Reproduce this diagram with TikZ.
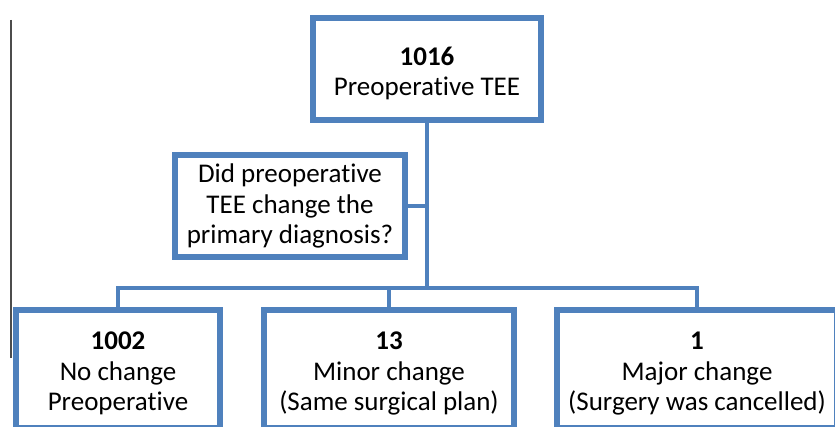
\documentclass[tikz,border=0pt]{standalone}
\usepackage{fontspec}
\setmainfont{Carlito}[Ligatures=NoCommon]
\usetikzlibrary{shadows}
\definecolor{boxblue}{RGB}{79,129,189}
\newcommand{\numline}[1]{\rule{0pt}{13.5pt}\textbf{#1}}

\begin{document}
\begin{tikzpicture}[x=0.5pt,y=-0.5pt,
    box/.style={draw=boxblue,line width=3pt,fill=white,align=center,inner sep=0pt,
      font=\fontsize{13.5}{15.25}\selectfont,
      drop shadow={shadow xshift=1pt,shadow yshift=-1pt,opacity=0.3,fill=black}},
    conn/.style={draw=boxblue,line width=2.25pt}]

        \useasboundingbox (0,0) rectangle (835,427);
        \begin{scope}
        \clip (0,0) rectangle (835,427);

        %% boxes
        \node[box,minimum width=114pt,minimum height=51pt] (top) at (427,69) {\numline{1016}\\Preoperative TEE};
        \node[box,minimum width=115pt,minimum height=51pt] (quest) at (290,206) {Did preoperative\\TEE change the\\primary diagnosis?};
        \node[box,minimum width=102pt,minimum height=59pt] (nochg) at (118,369) {\numline{1002}\\No change\\Preoperative};
        \node[box,minimum width=125pt,minimum height=59pt] (minchg) at (389,369) {\numline{13}\\Minor change\\(Same surgical plan)};
        \node[box,minimum width=140pt,minimum height=59pt] (majchg) at (697,369) {\numline{1}\\Major change\\(Surgery was cancelled)};
        \coordinate (bus) at (427,288);

        % connectors
        \draw[conn] (top.south) -- (bus);
        \draw[conn] (quest.east) -- (quest.east -| top.south);
        \draw[conn] (nochg.north) |- (bus) -| (majchg.north);
        \draw[conn] (minchg.north) -- (minchg.north |- bus);

        % rule at left
        \draw[gray!60!black,line width=0.75pt] (11,20) -- (11,358);
        \end{scope}
    \end{tikzpicture}
\end{document}
